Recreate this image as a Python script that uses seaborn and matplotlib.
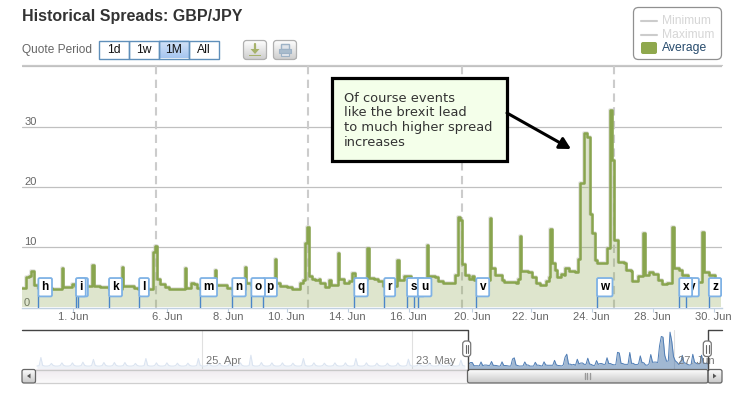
import numpy as np
import pandas as pd
import seaborn as sns
import matplotlib
matplotlib.use("Agg")
import matplotlib.pyplot as plt
from matplotlib.patches import Rectangle, FancyBboxPatch

sns.set_theme(style="white")
plt.rcParams["font.family"] = ["Liberation Sans", "DejaVu Sans"]

# hours since 1 Jun 00:00 on the trading-time axis, value holds until the next hour
spread_hours = [-40,-37,-35,-33,-31,-28,-17,-14,-9,-8,-1,1,11,15,16,21,28,38,39,48,51,60,62.5,64,65.5,68,72,75,81,88,89,93,95,97,100,
    111.5,112.5,121,125,135,136,140,158.5,159.5,163,168,172,175,178,181,182.5,184,185.5,188,190,193,194,198,201,203,208,209,213,217,219,222,
    231.5,232.5,237,240,244,255,256,260,266,278.5,279.5,285,287,291,299,300.5,302.5,304,305.5,308,311,314,315.5,328,329,332,336,337,339,
    348,350,351.5,352.5,358,361,364,367,372,374,375.5,376.5,379,381,383.5,386,387,390,395,397,399,401.6,404,406.7,408,410.5,412,420,
    422.7,424,425.5,429,433,435,438.6,440,444,448.5,449.5,453,456,460,463.5,467.5,471.5,472.5,476.6,479,484,489,495,496,500,505,510]
spread_values = [3.3,5.0,5.2,6.1,3.7,3.3,3.0,3.1,6.6,3.4,3.9,3.6,3.6,7.0,3.6,3.4,3.0,6.7,3.5,3.3,3.0,3.1,9.2,10.2,4.8,3.9,3.4,3.0,3.1,6.6,3.3,4.0,3.9,3.3,3.0,
    6.3,3.8,3.3,3.0,6.7,4.0,3.7,8.0,4.1,3.5,3.4,3.1,3.1,4.0,4.5,10.7,13.4,5.2,4.8,4.5,4.7,4.0,3.4,4.5,3.7,9.0,4.8,4.0,4.4,5.7,4.5,
    9.9,4.9,4.7,4.4,3.6,7.8,4.5,5.2,4.5,10.3,5.2,5.0,4.4,4.1,4.0,5.4,15.0,14.5,7.2,5.4,4.8,5.2,4.5,14.9,6.5,5.4,5.4,4.5,4.3,
    4.0,4.8,11.9,6.0,5.9,5.0,4.0,3.7,4.4,5.0,13.1,7.3,6.3,5.1,5.5,5.4,6.5,6.1,5.9,8.0,20.6,28.9,28.3,15.5,12.3,7.8,7.3,9.9,
    32.7,24.5,11.2,7.6,7.3,6.3,6.1,4.4,5.2,12.4,5.4,5.9,5.5,4.5,3.9,4.0,13.3,6.5,6.2,5.4,4.8,4.2,12.5,5.9,5.4,4.5,4.0]

# daily peak heights of the earlier history shown only in the navigator
history_peaks = [10.5,5.3,5.8,5.8,6.4,8.8,6.1,6.1,6.1,5.3,9.6,5.8,5.8,5.5,5.5,9.6,5.8,5.5,5.5,5.8,12.5,6.1,5.8,5.8,5.5,
    9.6,5.8,5.5,5.8,5.8,9.6,5.8,5.5,5.5,5.8,9.0,5.5,5.8,5.5,5.8,8.2]
history_first_peak = -1016
history_base = 3.0

tick_hours = [0,74,122,168,216,264,314,360,408,456,504]
tick_labels = ["1. Jun","6. Jun","8. Jun","10. Jun","14. Jun","16. Jun","20. Jun","22. Jun","24. Jun","28. Jun","30. Jun"]
y_ticks = [0,10,20,30,40]
event_hours = [65,185,305.5,425.5]
flag_labels = list("hijklmnopqrstuvwxyz")
flag_hours = [-27.6,2,3.7,28,51.7,99.8,125,140,149.4,221,244.6,262.5,268,271,317,412,476.7,482,500]
nav_tick_hours = [-647,-168,432]
nav_tick_labels = ["25. Apr","23. May","27. Jun"]
periods = ["1d","1w","1M","All"]
legend_names = ["Minimum","Maximum","Average"]
note_lines = ["Of course events","like the brexit lead","to much higher spread","increases"]

W, H = 732, 396
GREEN = "#89A54E"
fig = plt.figure(figsize=(W/100, H/100), dpi=100, facecolor="white")

def axes_px(x0, y0, x1, y1, **kw):
    return fig.add_axes([x0/W, 1-y1/H, (x1-x0)/W, (y1-y0)/H], **kw)

# main plot ------------------------------------------------------------------
PX_H = 1.2708
to_hour = lambda px: (px-73.3)/PX_H
ax = axes_px(22, 64.5, 722, 307.5)
df = pd.DataFrame({"hour": spread_hours, "spread": spread_values})
ax.set_xlim(to_hour(22), to_hour(722))
ax.set_ylim(0, 40.3)
ax.set_facecolor("none")
for v in y_ticks[1:]:
    ax.axhline(v, color="#c0c0c0", lw=0.9, zorder=1)
ax.axhline(40.3, color="#c8c8c8", lw=0.9, zorder=1, clip_on=False)
for h in event_hours:
    ax.axvline(h, color="#cccccc", lw=1.5, ls=(0,(4,2.6)), zorder=1.5)
ax.fill_between(df["hour"], df["spread"], step="post", color=GREEN, alpha=0.28, lw=0, zorder=2)
sns.lineplot(data=df, x="hour", y="spread", ax=ax, estimator=None, drawstyle="steps-post",
             color="#c8c8c0", lw=2.6, zorder=2.4, legend=False, alpha=0.5)
sns.lineplot(data=df, x="hour", y="spread", ax=ax, estimator=None, drawstyle="steps-post",
             color=GREEN, lw=1.8, zorder=3, legend=False)
ax.set_xlabel(""); ax.set_ylabel("")
for s in ["top","left","right"]:
    ax.spines[s].set_visible(False)
ax.spines["bottom"].set_color("#C0D0E0")
ax.spines["bottom"].set_linewidth(1)
ax.set_xticks(tick_hours, tick_labels)
ax.tick_params(axis="x", length=3, width=0.8, color="#C0D0E0", labelcolor="#666666", labelsize=8, pad=0, bottom=True)
ax.set_yticks(y_ticks[:-1], [str(v) for v in y_ticks[:-1]])
ax.tick_params(axis="y", length=0, pad=-1.5, labelcolor="#666666", labelsize=8)
for t in ax.get_yticklabels():
    t.set_ha("left"); t.set_va("bottom")

# flags: earlier letters on top, except u which lies over s and t
flags = list(reversed(list(zip(flag_labels, flag_hours))))
flags.sort(key=lambda f: f[0] == "u")
for lab, h in flags:
    ax.plot([h, h], [0, 2], color="#4a86c8", lw=1, zorder=4, solid_capstyle="butt")
    ax.annotate(lab, xy=(h, 0), xytext=(2.4, 14.6), textcoords="offset points", ha="left", va="center",
                fontsize=8.5, fontweight="bold", color="black", zorder=5, annotation_clip=False,
                bbox=dict(boxstyle="round,pad=0.27,rounding_size=0.12", fc="white", ec="#7fb2e5", lw=1.3))

# navigator ------------------------------------------------------------------
NAV_PX = 0.4375
nav_hour = lambda px: (px-467.9)/NAV_PX-40
nav = axes_px(22, 329.5, 722, 369.5)
nav.set_xlim(nav_hour(22), nav_hour(722))
nav.set_ylim(0, 35)
nav.axis("off")
hist_x, hist_y = [], []
for i, p in enumerate(history_peaks):
    c = history_first_peak + 24*i
    hist_x += [c-9, c-4, c, c+4, c+9]
    hist_y += [history_base, history_base+0.4, p, history_base+0.6, history_base]
nav.fill_between(hist_x, hist_y, color="#4572A7", alpha=0.08, lw=0, zorder=1)
nav.plot(hist_x, hist_y, color="#dbe4f1", lw=0.8, zorder=2)
# the navigator groups the series into 4-hour maxima
hourly = df.set_index("hour")["spread"]
grid = np.arange(-40, 511)
hourly = hourly.reindex(hourly.index.union(grid)).ffill().reindex(grid)
grouped = hourly.groupby((grid+40)//4).max()
group_x = grid[::4][:len(grouped)] + 2
nav.fill_between(group_x, grouped.values, color="#4572A7", alpha=0.5, lw=0, zorder=3)
nav.plot(group_x, grouped.values, color="#4f7db5", lw=0.7, zorder=4)
for h in nav_tick_hours:
    nav.axvline(h, color="#e0e0e0", lw=0.8, zorder=0.5)
for h, lab in zip(nav_tick_hours, nav_tick_labels):
    nav.annotate(lab, xy=(h, 0), xytext=(2.8, 6), textcoords="offset points", ha="left", va="center",
                 fontsize=8, color="#777777", zorder=6)

# page furniture in pixel coordinates ----------------------------------------
ov = fig.add_axes([0, 0, 1, 1], zorder=10)
ov.set_xlim(0, W); ov.set_ylim(H, 0); ov.axis("off"); ov.patch.set_alpha(0)

def grad(x0, y0, x1, y1, c0, c1, z=2):
    a = np.array(matplotlib.colors.to_rgb(c0)); b = np.array(matplotlib.colors.to_rgb(c1))
    t = np.linspace(0, 1, 32)[:, None, None]
    img = a[None, None, :]*(1-t) + b[None, None, :]*t
    ov.imshow(img, extent=(x0, x1, y1, y0), aspect="auto", zorder=z, interpolation="bilinear")

def rbox(x0, y0, x1, y1, r=3, fc="white", ec="#999999", lw=0.8, z=3):
    p = FancyBboxPatch((x0, y0), x1-x0, y1-y0, boxstyle=f"round,pad=0,rounding_size={r}",
                       fc=fc, ec=ec, lw=lw, zorder=z)
    ov.add_patch(p)
    return p

ov.text(22, 17, "Historical Spreads: GBP/JPY", fontsize=11.5, fontweight="bold", color="#333333", va="center", ha="left")
ov.text(22, 50.5, "Quote Period", fontsize=8.6, color="#666666", va="center", ha="left")

# period buttons
for i, lab in enumerate(periods):
    x0 = 98.5 + 30*i
    if lab == "1M":
        grad(x0, 40.5, x0+30, 58.5, "#d6e4f8", "#a6c6f0")
    ov.add_patch(Rectangle((x0, 40.5), 30, 18, fc="none", ec="#5f8fba", lw=1, zorder=3))
    ov.text(x0+15, 50, lab, fontsize=8.7, color="#111111", va="center", ha="center", zorder=4)

# export / print icons
for x0 in (243.5, 273.5):
    grad(x0, 40.5, x0+23, 59.5, "#ffffff", "#cfcfcf")
    rbox(x0, 40.5, x0+23, 59.5, r=3, fc="none", ec="#b0b0b0", lw=0.9)
ov.plot([255, 255], [44, 51], color="#a6b26b", lw=1.6, zorder=4)
ov.fill([250.5, 259.5, 255], [49, 49, 54], color="#a6b26b", zorder=4, lw=0)
ov.add_patch(Rectangle((249, 54.5), 12, 1.6, fc="#a6b26b", ec="none", zorder=4))
ov.add_patch(Rectangle((281, 44), 8, 4.5, fc="#e0e4ea", ec="#9db2c6", lw=1, zorder=4))
ov.add_patch(Rectangle((279, 48.5), 12, 4, fc="#a9bccd", ec="#9db2c6", lw=0.8, zorder=4))
ov.add_patch(Rectangle((281, 52.5), 8, 3, fc="#e0e4ea", ec="#9db2c6", lw=0.8, zorder=4))

# legend box
rbox(633.5, 7.5, 721.5, 59.5, r=5, fc="white", ec="#909090", lw=0.9)
for y, lab in zip((20.7, 34.7), legend_names[:2]):
    ov.plot([641, 657], [y, y], color="#cccccc", lw=1.5, zorder=4)
    ov.text(662, y, lab, fontsize=8.7, color="#d6d6d6", va="center", ha="left", zorder=4)
rbox(641, 42, 657, 54, r=2, fc="#8fa84d", ec="none", lw=0)
ov.text(662, 48.5, legend_names[2], fontsize=8.7, color="#274b6d", va="center", ha="left", zorder=4)

# call-out
ov.add_patch(Rectangle((331.5, 77.5), 175, 83, fc="#f4ffea", ec="black", lw=2.3, zorder=6))
for i, line in enumerate(note_lines):
    ov.text(344, 98+15*i, line, family="DejaVu Sans", fontsize=9.4, color="#333333", va="center", ha="left", zorder=7)
ov.annotate("", xy=(571, 149), xytext=(507, 113), zorder=7,
            arrowprops=dict(arrowstyle="-|>,head_length=0.55,head_width=0.3", color="black", lw=2.2, shrinkA=0, shrinkB=0))

# navigator frame and scrollbar
ov.plot([22, 467.5, 467.5], [329.5, 329.5, 370], color="#444444", lw=1, zorder=5)
ov.plot([722, 707.7, 707.7], [329.5, 329.5, 370], color="#444444", lw=1, zorder=5)
grad(35, 369.5, 467.5, 383, "#eeeaee", "#fbfafb")
ov.plot([35, 467], [369.5, 369.5], color="#c8c8c8", lw=0.9, zorder=3)
ov.plot([35, 467], [383, 383], color="#cfcfcf", lw=0.9, zorder=3)
grad(467.5, 369.5, 708, 383, "#ffffff", "#c8c8c8")
rbox(467.5, 369.5, 708, 383, r=2, fc="none", ec="#666666", lw=0.9)
for dx in (-2.5, 0, 2.5):
    ov.plot([587+dx, 587+dx], [373, 379], color="#999999", lw=1, zorder=4)
for x0, x1, tri in ((22, 35.5, [(30.5, 373.5), (30.5, 378.5), (27, 376)]),
                    (708, 722, [(713, 373.5), (713, 378.5), (716.5, 376)])):
    grad(x0, 369.5, x1, 383, "#ffffff", "#c8c8c8")
    rbox(x0, 369.5, x1, 383, r=2, fc="none", ec="#666666", lw=0.9)
    ov.fill(*zip(*tri), color="#555555", zorder=4, lw=0)
for xc in (466.7, 707.3):
    rbox(xc-4, 341, xc+4, 356.5, r=3, fc="white", ec="#777777", lw=0.9, z=6)
    for dx in (-1.2, 1.2):
        ov.plot([xc+dx, xc+dx], [345, 353], color="#666666", lw=0.8, zorder=7)

fig.savefig("out.png", dpi=100, facecolor="white")
